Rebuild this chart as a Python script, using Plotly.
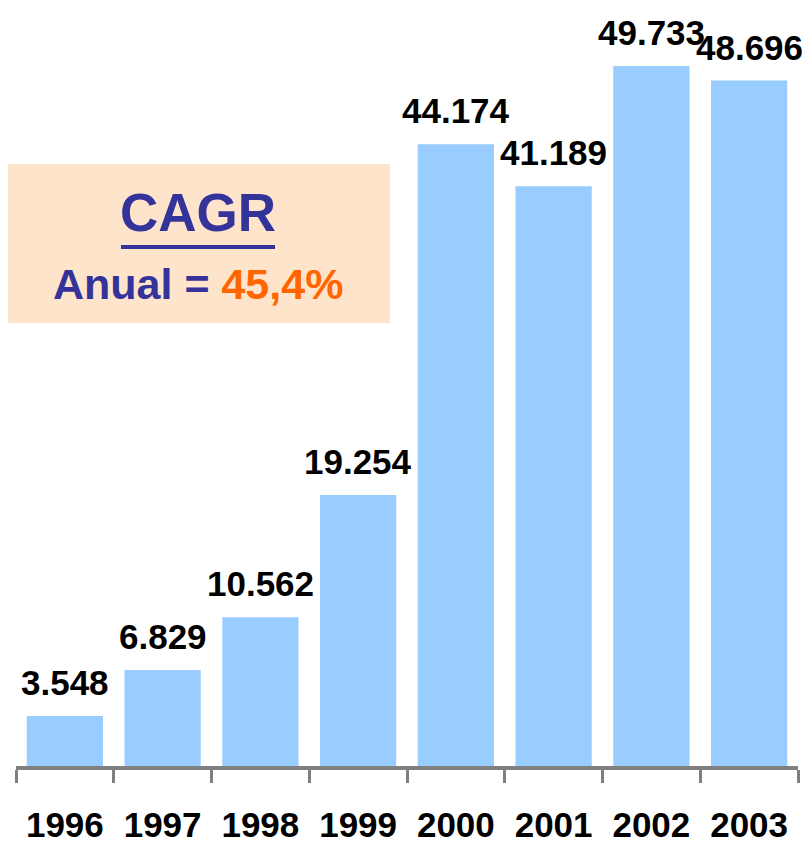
import plotly.graph_objects as go

years = ["1996", "1997", "1998", "1999", "2000", "2001", "2002", "2003"]
values = [3548, 6829, 10562, 19254, 44174, 41189, 49733, 48696]
value_labels = ["3.548", "6.829", "10.562", "19.254", "44.174", "41.189", "49.733", "48.696"]

FONT = "Liberation Sans, Arial, sans-serif"
BAR_COLOR = "#99CCFF"
AXIS_COLOR = "#808080"

fig = go.Figure()
fig.add_trace(go.Bar(x=years, y=values, marker=dict(color=BAR_COLOR, line=dict(width=0)),
                     hoverinfo="skip"))

# value labels (category index positions on the category axis)
for i, (v, lab) in enumerate(zip(values, value_labels)):
    fig.add_annotation(x=i, y=v, text=f"<b>{lab}</b>", showarrow=False,
                       yanchor="bottom", xanchor="center", yshift=12,
                       font=dict(family=FONT, size=35, color="black"))

# CAGR box
fig.add_shape(type="rect", xref="paper", yref="paper",
              x0=-0.0128, x1=0.4783, y0=0.5844, y1=0.7942,
              fillcolor="#FFE4CC", line=dict(width=0), layer="below")
fig.add_annotation(xref="paper", yref="paper", x=0.2327, y=0.7296, text="<b>CAGR</b>",
                   showarrow=False, xanchor="center", yanchor="middle",
                   font=dict(family=FONT, size=53, color="#333399"))
fig.add_shape(type="line", xref="paper", yref="paper",
              x0=0.1343, x1=0.3312, y0=0.6847, y1=0.6847,
              line=dict(color="#333399", width=4))
fig.add_annotation(xref="paper", yref="paper", x=0.2327, y=0.6359,
                   text="<b>Anual = <span style='color:#FF6600'>45,4%</span></b>",
                   showarrow=False, xanchor="center", yanchor="middle",
                   font=dict(family=FONT, size=43, color="#333399"))

fig.update_layout(
    width=812, height=844,
    margin=dict(l=8, r=22, t=0, b=86, autoexpand=False),
    paper_bgcolor="white", plot_bgcolor="white",
    bargap=0.22, showlegend=False,
    xaxis=dict(type="category", range=[-0.5, len(years) - 0.5],
               showline=True, linecolor=AXIS_COLOR, linewidth=4,
               ticks="outside", tickson="boundaries", ticklen=13, tickwidth=3,
               tickcolor=AXIS_COLOR, showgrid=False, zeroline=False,
               tickangle=0, automargin=False,
               tickfont=dict(family=FONT, size=35, color="black", weight="bold"),
               ticklabelstandoff=25),
    yaxis=dict(range=[0, 53853], visible=False, showgrid=False, zeroline=False),
)

fig.write_html("out.html")
